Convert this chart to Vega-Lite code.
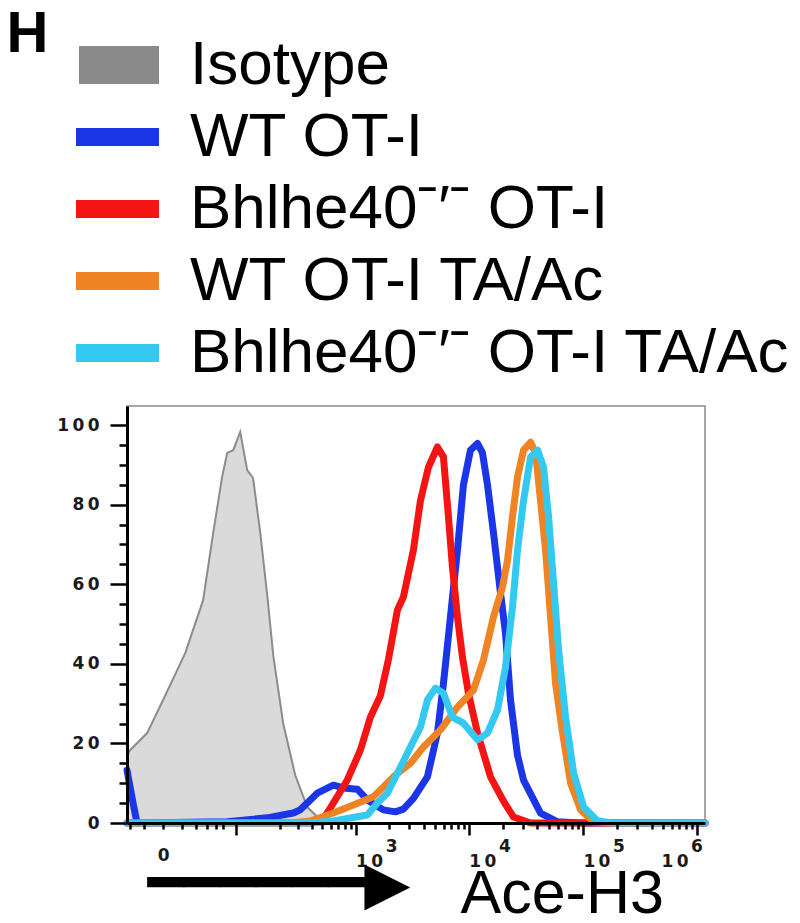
{
  "$schema": "https://vega.github.io/schema/vega-lite/v6.json",
  "width": 578,
  "height": 417,
  "autosize": "none",
  "padding": {"left": 127, "top": 406, "right": 95, "bottom": 100},
  "background": "white",
  "config": {
    "view": {"stroke": "#8c8c8c", "strokeWidth": 1.5},
    "legend": {
      "orient": "none", "legendX": -59, "legendY": -372, "title": null,
      "symbolSize": 1600, "symbolOpacity": 1, "symbolStrokeWidth": 0,
      "labelFont": "Liberation Sans", "labelFontSize": 62, "labelColor": "#000",
      "labelOffset": 60, "rowPadding": 10, "labelLimit": 1000
    }
  },
  "data": {"values": [
    {"s":"iso","x":-22.5,"y":17},{"s":"iso","x":-19.9,"y":18.3},{"s":"iso","x":-8,"y":22.6},{"s":"iso","x":0,"y":30.9},{"s":"iso","x":11.8,"y":42.7},{"s":"iso","x":26.1,"y":56},{"s":"iso","x":36.7,"y":72.9},{"s":"iso","x":48.1,"y":87},{"s":"iso","x":55.5,"y":93},{"s":"iso","x":65.4,"y":93.7},{"s":"iso","x":78.5,"y":98.3},{"s":"iso","x":93.6,"y":88.7},{"s":"iso","x":108,"y":86.7},{"s":"iso","x":128,"y":73},{"s":"iso","x":151,"y":57},{"s":"iso","x":173,"y":42},{"s":"iso","x":216,"y":25},{"s":"iso","x":281,"y":12},{"s":"iso","x":364,"y":4},{"s":"iso","x":480,"y":0.8},{"s":"iso","x":729,"y":0},
    {"s":"wt","x":-22.5,"y":13.3},{"s":"wt","x":-17.5,"y":5},{"s":"wt","x":-14.5,"y":0},{"s":"wt","x":55.5,"y":0.3},{"s":"wt","x":150.6,"y":1.3},{"s":"wt","x":269,"y":2.5},{"s":"wt","x":313,"y":3.3},{"s":"wt","x":450,"y":7.5},{"s":"wt","x":630,"y":9.5},{"s":"wt","x":775,"y":8.8},{"s":"wt","x":1036,"y":8.5},{"s":"wt","x":1272,"y":5.8},{"s":"wt","x":1766,"y":3.3},{"s":"wt","x":2255,"y":2.8},{"s":"wt","x":2655,"y":3.5},{"s":"wt","x":3255,"y":6.2},{"s":"wt","x":4324,"y":11.6},{"s":"wt","x":5296,"y":22.6},{"s":"wt","x":5981,"y":35},{"s":"wt","x":6893,"y":51.8},{"s":"wt","x":7944,"y":68.6},{"s":"wt","x":8969,"y":85},{"s":"wt","x":10336,"y":93.7},{"s":"wt","x":11909,"y":95.4},{"s":"wt","x":13173,"y":93},{"s":"wt","x":14576,"y":85},{"s":"wt","x":16458,"y":72.9},{"s":"wt","x":18963,"y":57.8},{"s":"wt","x":20979,"y":47.7},{"s":"wt","x":23211,"y":30.9},{"s":"wt","x":26739,"y":17},{"s":"wt","x":30192,"y":10.8},{"s":"wt","x":42561,"y":2.5},{"s":"wt","x":59997,"y":0.3},{"s":"wt","x":95527,"y":0},{"s":"wt","x":1175000,"y":0},
    {"s":"ko","x":-22.5,"y":0},{"s":"ko","x":400,"y":0},{"s":"ko","x":511,"y":1},{"s":"ko","x":630,"y":5},{"s":"ko","x":842,"y":10.8},{"s":"ko","x":1102,"y":18.3},{"s":"ko","x":1353,"y":26.6},{"s":"ko","x":1661,"y":32},{"s":"ko","x":1956,"y":41},{"s":"ko","x":2350,"y":53.5},{"s":"ko","x":2655,"y":56.8},{"s":"ko","x":3255,"y":68.6},{"s":"ko","x":3752,"y":81},{"s":"ko","x":4414,"y":89.4},{"s":"ko","x":5296,"y":94.5},{"s":"ko","x":5981,"y":92},{"s":"ko","x":6620,"y":77},{"s":"ko","x":7179,"y":64.3},{"s":"ko","x":7944,"y":51.8},{"s":"ko","x":8789,"y":41.7},{"s":"ko","x":9925,"y":32.6},{"s":"ko","x":11909,"y":22.6},{"s":"ko","x":15488,"y":11.6},{"s":"ko","x":20150,"y":5.5},{"s":"ko","x":24665,"y":1.5},{"s":"ko","x":34774,"y":0},{"s":"ko","x":1175000,"y":0},
    {"s":"wtta","x":-22.5,"y":0},{"s":"wtta","x":250,"y":0},{"s":"wtta","x":388,"y":0.5},{"s":"wtta","x":630,"y":2.5},{"s":"wtta","x":954,"y":4.5},{"s":"wtta","x":1439,"y":6.6},{"s":"wtta","x":1661,"y":8.3},{"s":"wtta","x":2165,"y":11.6},{"s":"wtta","x":3061,"y":15},{"s":"wtta","x":3987,"y":19.1},{"s":"wtta","x":5630,"y":23.4},{"s":"wtta","x":7944,"y":29.1},{"s":"wtta","x":10983,"y":33.4},{"s":"wtta","x":13444,"y":41},{"s":"wtta","x":16458,"y":51.8},{"s":"wtta","x":19746,"y":59.3},{"s":"wtta","x":21840,"y":66},{"s":"wtta","x":24169,"y":77},{"s":"wtta","x":26739,"y":87},{"s":"wtta","x":30192,"y":93.7},{"s":"wtta","x":34774,"y":95.7},{"s":"wtta","x":38478,"y":93},{"s":"wtta","x":42561,"y":81},{"s":"wtta","x":47080,"y":68.6},{"s":"wtta","x":52084,"y":51.8},{"s":"wtta","x":57633,"y":35},{"s":"wtta","x":66387,"y":22.6},{"s":"wtta","x":78042,"y":10},{"s":"wtta","x":95527,"y":3.3},{"s":"wtta","x":124186,"y":0.3},{"s":"wtta","x":186040,"y":0},{"s":"wtta","x":1175000,"y":0},
    {"s":"kota","x":-22.5,"y":0},{"s":"kota","x":400,"y":0},{"s":"kota","x":630,"y":0.5},{"s":"kota","x":1272,"y":2},{"s":"kota","x":1562,"y":5},{"s":"kota","x":1916,"y":7.5},{"s":"kota","x":2497,"y":14},{"s":"kota","x":3061,"y":19.1},{"s":"kota","x":3752,"y":24.1},{"s":"kota","x":4324,"y":30.9},{"s":"kota","x":5086,"y":33.9},{"s":"kota","x":5981,"y":32.6},{"s":"kota","x":7179,"y":26.6},{"s":"kota","x":8969,"y":25.1},{"s":"kota","x":11909,"y":20.9},{"s":"kota","x":14576,"y":22.6},{"s":"kota","x":17846,"y":28.4},{"s":"kota","x":20979,"y":39.2},{"s":"kota","x":24169,"y":54.3},{"s":"kota","x":26739,"y":68.6},{"s":"kota","x":30192,"y":81},{"s":"kota","x":34774,"y":92},{"s":"kota","x":40058,"y":93.7},{"s":"kota","x":45222,"y":89.4},{"s":"kota","x":50033,"y":77},{"s":"kota","x":55350,"y":60.3},{"s":"kota","x":61232,"y":43.5},{"s":"kota","x":70533,"y":26.6},{"s":"kota","x":82921,"y":12.6},{"s":"kota","x":101470,"y":4},{"s":"kota","x":134631,"y":0.5},{"s":"kota","x":186040,"y":0},{"s":"kota","x":1175000,"y":0}
  ]},
  "encoding": {
    "x": {
      "field": "x", "type": "quantitative",
      "scale": {"type": "symlog", "constant": 21, "domain": [-22.5, 1175000], "nice": false},
      "axis": {
        "title": "Ace-H3", "titleFont": "Liberation Sans", "titleFontSize": 61, "titleFontWeight": "normal", "titleColor": "#000",
        "titleAnchor": "start", "titleAlign": "left", "titleX": 333, "titleY": 89, "titleBaseline": "alphabetic",
        "values": [-20,-10,0,10,20,30,40,50,70,200,300,400,500,600,700,800,900,1000,2000,3000,4000,5000,6000,7000,8000,9000,10000,20000,30000,40000,50000,60000,70000,80000,90000,100000,200000,300000,400000,500000,600000,700000,800000,900000,1000000],
        "labelExpr": "datum.value == 0 ? ['\u200c', '0'] : datum.value == 1000 ? ['\u200c\u2007\u2007\u00a03', '1\u20090'] : datum.value == 10000 ? ['\u200c\u2007\u2007\u00a04', '1\u20090'] : datum.value == 100000 ? ['\u200c\u2007\u2007\u00a05', '1\u20090'] : datum.value == 1000000 ? ['\u200c\u2007\u2007\u00a06', '1\u20090'] : ''",
        "labelAlign": {"condition": {"test": "datum.value == 0", "value": "center"}, "value": "left"},
        "labelOffset": {"condition": {"test": "datum.value == 1000000", "value": -36}, "value": 0},
        "labelOverlap": false, "labelFlush": false,
        "labelFont": "DejaVu Sans", "labelFontSize": 17, "labelFontWeight": "bold", "labelColor": "#1a1a1a", "labelPadding": 3,
        "labelBaseline": "top", "labelLineHeight": 15,
        "domainColor": "#000", "domainWidth": 3, "tickColor": "#000", "tickWidth": 2.5,
        "tickSize": {"condition": {"test": "datum.value == 70 || datum.value == 1000 || datum.value == 10000 || datum.value == 100000 || datum.value == 1000000", "value": 12}, "value": 6},
        "grid": false, "zindex": 1
      }
    }
  },
  "resolve": {"axis": {"y": "independent"}},
  "layer": [
    {
      "transform": [{"filter": "datum.s == 'iso'"}],
      "mark": {"type": "area", "fill": "#dadada", "stroke": "#8c8c8c", "strokeWidth": 2},
      "encoding": {
        "y": {
          "field": "y", "type": "quantitative",
          "scale": {"domain": [0, 104.8], "nice": false},
          "axis": {
            "orient": "left",
            "title": "━━━━━━▶", "titleFont": "DejaVu Sans", "titleFontSize": 60, "titleFontWeight": "normal", "titleColor": "#000",
            "titleAngle": 0, "titleAlign": "left", "titleBaseline": "alphabetic", "titleX": 20, "titleY": 496,
            "values": [0,5,10,15,20,25,30,35,40,45,50,55,60,65,70,75,80,85,90,95,100],
            "labelExpr": "datum.value % 20 == 0 ? join(split(datum.label, ''), '\u2009') : ''",
            "labelOverlap": false,
            "labelFont": "DejaVu Sans", "labelFontSize": 17, "labelFontWeight": "bold", "labelColor": "#1a1a1a", "labelPadding": 11,
            "tickSize": {"condition": {"test": "datum.value % 20 == 0", "value": 17}, "value": 8},
            "tickColor": "#000", "tickWidth": 2.5, "domainColor": "#000", "domainWidth": 3,
            "grid": false, "zindex": 1
          }
        }
      }
    },
    {
      "transform": [{"filter": "datum.s != 'iso'"}],
      "mark": {"type": "line", "strokeJoin": "round", "strokeCap": "round"},
      "encoding": {
        "y": {"field": "y", "type": "quantitative", "scale": {"domain": [0, 104.8], "nice": false}, "axis": null},
        "color": {"field": "s", "type": "nominal",
          "scale": {"domain": ["iso","wt","ko","wtta","kota"], "range": ["#8a8a8a","#1a36e6","#f41414","#f08424","#33c9f0"]},
          "legend": {"labelExpr": "datum.label == 'iso' ? 'Isotype' : datum.label == 'wt' ? 'WT OT-I' : datum.label == 'ko' ? 'Bhlhe40ˉ′ˉ OT-I' : datum.label == 'wtta' ? 'WT OT-I TA/Ac' : 'Bhlhe40ˉ′ˉ OT-I TA/Ac'"}},
        "size": {"field": "s", "type": "nominal",
          "scale": {"domain": ["wt","ko","wtta","kota"], "range": [7, 7, 4.5, 4.5]}, "legend": null}
      }
    },
    {
      "mark": {"type": "point", "filled": true, "opacity": 0},
      "encoding": {
        "y": {
          "field": "y", "type": "quantitative", "scale": {"domain": [0, 104.8], "nice": false},
          "axis": {
            "orient": "right", "domain": false, "ticks": false, "labels": false, "grid": false,
            "title": "H", "titleFont": "Liberation Sans", "titleFontSize": 58, "titleFontWeight": "bold", "titleColor": "#000",
            "titleAngle": 0, "titleAlign": "left", "titleBaseline": "alphabetic", "titleX": -699, "titleY": -355
          }
        },
        "color": {"field": "s", "type": "nominal",
          "scale": {"domain": ["iso","wt","ko","wtta","kota"], "range": ["#8a8a8a","#1a36e6","#f41414","#f08424","#33c9f0"]},
          "legend": {"labelExpr": "datum.label == 'iso' ? 'Isotype' : datum.label == 'wt' ? 'WT OT-I' : datum.label == 'ko' ? 'Bhlhe40ˉ′ˉ OT-I' : datum.label == 'wtta' ? 'WT OT-I TA/Ac' : 'Bhlhe40ˉ′ˉ OT-I TA/Ac'"}},
        "shape": {"field": "s", "type": "nominal",
          "scale": {"domain": ["iso","wt","ko","wtta","kota"], "range": ["M-1,-0.95H3V0.95H-1Z","M-1.15,-0.45H3V0.45H-1.15Z","M-1.15,-0.45H3V0.45H-1.15Z","M-1.15,-0.45H3V0.45H-1.15Z","M-1.15,-0.45H3V0.45H-1.15Z"]},
          "legend": {"labelExpr": "datum.label == 'iso' ? 'Isotype' : datum.label == 'wt' ? 'WT OT-I' : datum.label == 'ko' ? 'Bhlhe40ˉ′ˉ OT-I' : datum.label == 'wtta' ? 'WT OT-I TA/Ac' : 'Bhlhe40ˉ′ˉ OT-I TA/Ac'"}}
      }
    }
  ]
}
